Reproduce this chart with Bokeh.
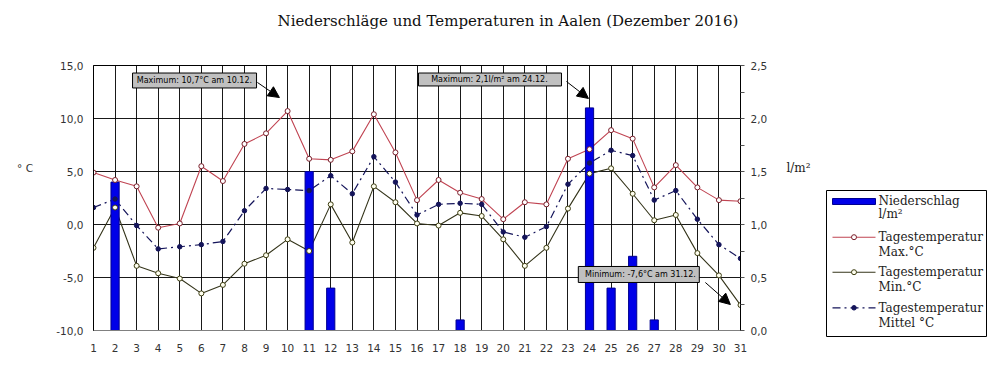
from bokeh.plotting import figure
from bokeh.models import Range1d, LinearAxis, FixedTicker, Arrow, NormalHead
from bokeh.layouts import row, column
from bokeh.embed import file_html
from bokeh.resources import INLINE
from bokeh.core.properties import value

# ---------------- data ----------------
days = list(range(1, 32))
t_max = [4.9, 4.2, 3.6, -0.3, 0.1, 5.5, 4.1, 7.6, 8.6, 10.7, 6.2, 6.1, 6.9, 10.4, 6.8, 2.3,
         4.2, 3.0, 2.4, 0.5, 2.1, 1.9, 6.2, 7.1, 8.9, 8.1, 3.5, 5.6, 3.5, 2.3, 2.2]
t_min = [-2.2, 1.6, -3.9, -4.6, -5.1, -6.5, -5.7, -3.7, -2.9, -1.4, -2.5, 1.9, -1.7, 3.6, 2.1, 0.1,
         -0.1, 1.1, 0.8, -1.4, -3.9, -2.2, 1.5, 4.8, 5.3, 2.9, 0.4, 0.9, -2.7, -4.8, -7.6]
t_mean = [1.6, 2.4, -0.1, -2.3, -2.1, -1.9, -1.6, 1.3, 3.4, 3.3, 3.2, 4.6, 2.9, 6.4, 4.0, 0.9,
          1.9, 2.0, 1.9, -0.7, -1.2, -0.2, 3.8, 5.8, 7.0, 6.5, 2.3, 3.2, 0.5, -1.9, -3.2]
rain = [0, 1.4, 0, 0, 0, 0, 0, 0, 0, 0, 1.5, 0.4, 0, 0, 0, 0, 0, 0.1, 0, 0, 0, 0, 0, 2.1,
        0.4, 0.7, 0.1, 0, 0, 0, 0]

temp_ticks = [-10, -5, 0, 5, 10, 15]
temp_labels = ["-10,0", "-5,0", "0,0", "5,0", "10,0", "15,0"]
rain_ticks = [0.0, 0.5, 1.0, 1.5, 2.0, 2.5]
rain_labels = ["0,0", "0,5", "1,0", "1,5", "2,0", "2,5"]

title_text = "Niederschläge und Temperaturen in Aalen (Dezember 2016)"
left_unit = "° C"
right_unit = "l/m²"
legend_texts = [["Niederschlag", "l/m²"], ["Tagestemperatur", "Max.°C"],
                ["Tagestemperatur", "Min.°C"], ["Tagestemperatur", "Mittel °C"]]
note_texts = ["Maximum: 10,7°C am 10.12.", "Maximum: 2,1l/m² am 24.12.",
              "Minimum: -7,6°C am 31.12."]

C_MAX = "#c04452"
C_MIN = "#34341a"
C_MEAN = "#14145a"
C_BAR = "#0000e8"
SERIF = "DejaVu Serif"
SANS = "DejaVu Sans"


def blank_fig(w, h):
    f = figure(width=w, height=h, x_range=Range1d(0, w), y_range=Range1d(h, 0),
               output_backend="svg", toolbar_location=None, min_border=0,
               x_axis_location=None, y_axis_location=None, frame_align=False)
    f.title.visible = False
    f.grid.visible = False
    f.outline_line_color = None
    f.background_fill_color = "white"
    f.border_fill_color = "white"
    return f


ROW_H = 320

# ---------------- title strip ----------------
top = blank_fig(992, 48)
top.text(x=[507.5], y=[20], text=[title_text], text_font=value(SERIF),
         text_font_size=value("15px"), text_align="center", text_baseline="middle",
         text_color="#111111")

# ---------------- left strip (unit) ----------------
left = blank_fig(48, ROW_H)
left.text(x=[24.5], y=[119], text=[left_unit], text_font=value(SANS),
          text_font_size=value("10.5px"), text_align="center", text_baseline="middle",
          text_color="#333333")

# ---------------- main figure ----------------
p = figure(width=735, height=ROW_H, x_range=Range1d(1, 31), y_range=Range1d(-10, 15),
           output_backend="svg", toolbar_location=None,
           min_border_left=45, min_border_right=43, min_border_top=17,
           min_border_bottom=ROW_H - 282)
p.title.visible = False
p.extra_y_ranges = {"rain": Range1d(0, 2.5)}
p.background_fill_color = "white"
p.border_fill_color = "white"
p.outline_line_color = "black"

xt = FixedTicker(ticks=days)
yt = FixedTicker(ticks=temp_ticks)
p.xaxis.ticker = xt
p.yaxis.ticker = yt
p.xgrid.ticker = xt
p.ygrid.ticker = yt
p.xgrid.grid_line_color = "black"
p.ygrid.grid_line_color = "black"
p.xgrid.grid_line_alpha = 0.9
p.ygrid.grid_line_alpha = 0.9

for ax in (p.xaxis, p.yaxis):
    ax.major_tick_out = 0
    ax.major_tick_in = 0
    ax.minor_tick_out = 0
    ax.minor_tick_in = 0
    ax.major_label_text_font = SANS
    ax.major_label_text_font_size = "10.5px"
    ax.major_label_text_color = "#333333"
p.xaxis.axis_line_color = "#808080"
p.xaxis.major_label_standoff = 13
p.yaxis.axis_line_color = "black"
p.yaxis.major_label_standoff = 10
p.yaxis.major_label_overrides = {float(t): l for t, l in zip(temp_ticks, temp_labels)}

rax = LinearAxis(y_range_name="rain",
                 ticker=FixedTicker(ticks=rain_ticks, minor_ticks=[0.25, 0.75, 1.25, 1.75, 2.25]),
                 major_tick_out=4, major_tick_in=0, minor_tick_out=4, minor_tick_in=0,
                 axis_line_color="black", major_tick_line_color="#555555",
                 minor_tick_line_color="#555555",
                 major_label_standoff=6, major_label_text_font=SANS,
                 major_label_text_font_size="10.5px", major_label_text_color="#333333")
rax.major_label_overrides = {float(t): l for t, l in zip(rain_ticks, rain_labels)}
p.add_layout(rax, "right")

# lines
p.line(days, t_max, line_color=C_MAX, line_width=1.1)
p.line(days, t_min, line_color=C_MIN, line_width=1.1)
p.line(days, t_mean, line_color=C_MEAN, line_width=1.2, line_dash="8 4 2 4")

# bars
rd = [d for d, r in zip(days, rain) if r > 0]
rv = [r for r in rain if r > 0]
p.vbar(x=rd, top=rv, bottom=0, width=0.38, y_range_name="rain",
       fill_color=C_BAR, line_color="#000090", line_width=1)

# markers
p.scatter(days, t_max, size=5, marker="circle", fill_color="white", line_color="#7a1e2a", line_width=1)
p.scatter(days, t_min, size=5, marker="circle", fill_color="#fffff0", line_color="#3c3c10", line_width=1)
p.scatter(days, t_mean, size=4.5, marker="circle", fill_color=C_MEAN, line_color=C_MEAN)

# callout boxes
p.quad(left=[2.81, 16.07, 23.48], right=[8.56, 22.70, 29.09],
       top=[14.29, 14.29, -3.96], bottom=[12.88, 13.07, -5.47],
       fill_color="#c0c0c0", line_color="black", line_width=1)
p.text(x=[5.68, 19.36, 26.36], y=[13.58, 13.68, -4.72], text=note_texts,
       text_font=value(SANS), text_font_size=value("8px"), text_align="center",
       text_baseline="middle", text_color="black")

for xs, ys, xe, ye in [(8.60, 13.40, 9.62, 11.98), (22.93, 13.49, 23.95, 11.89),
                       (29.37, -5.47, 30.53, -7.55)]:
    p.add_layout(Arrow(end=NormalHead(size=11, fill_color="black", line_color="black"),
                       x_start=xs, y_start=ys, x_end=xe, y_end=ye,
                       line_color="black", line_width=1))

# ---------------- legend strip ----------------
lg = blank_fig(209, ROW_H)
lg.text(x=[15], y=[119], text=[right_unit], text_font=value(SERIF),
        text_font_size=value("12px"), text_align="center", text_baseline="middle",
        text_color="#222222")
lg.quad(left=[43], right=[203], top=[142], bottom=[288], fill_color="white", line_color="black",
        line_width=1)
lg.quad(left=[49], right=[92], top=[150], bottom=[156], fill_color=C_BAR, line_color="#000090")
ys_entry = [188.7, 223.7, 259.3]
lg.line([49, 92], [ys_entry[0]] * 2, line_color=C_MAX, line_width=1.1)
lg.scatter([70.5], [ys_entry[0]], size=5, fill_color="white", line_color="#7a1e2a")
lg.line([49, 92], [ys_entry[1]] * 2, line_color=C_MIN, line_width=1.1)
lg.scatter([70.5], [ys_entry[1]], size=5, fill_color="#fffff0", line_color="#3c3c10")
lg.line([49, 92], [ys_entry[2]] * 2, line_color=C_MEAN, line_width=1.2, line_dash="8 4 2 4")
lg.scatter([70.5], [ys_entry[2]], size=4.5, fill_color=C_MEAN, line_color=C_MEAN)

ty = [152.7, 165.3, 188.7, 203.0, 223.7, 238.7, 259.3, 274.7]
tt = [s for pair in legend_texts for s in pair]
lg.text(x=[95] * len(tt), y=ty, text=tt, text_font=value(SERIF),
        text_font_size=value("12px"), text_baseline="middle", text_align="left",
        text_color="#222222")

layout = column(top, row(left, p, lg))
open("out.html", "w").write(file_html(layout, INLINE))
